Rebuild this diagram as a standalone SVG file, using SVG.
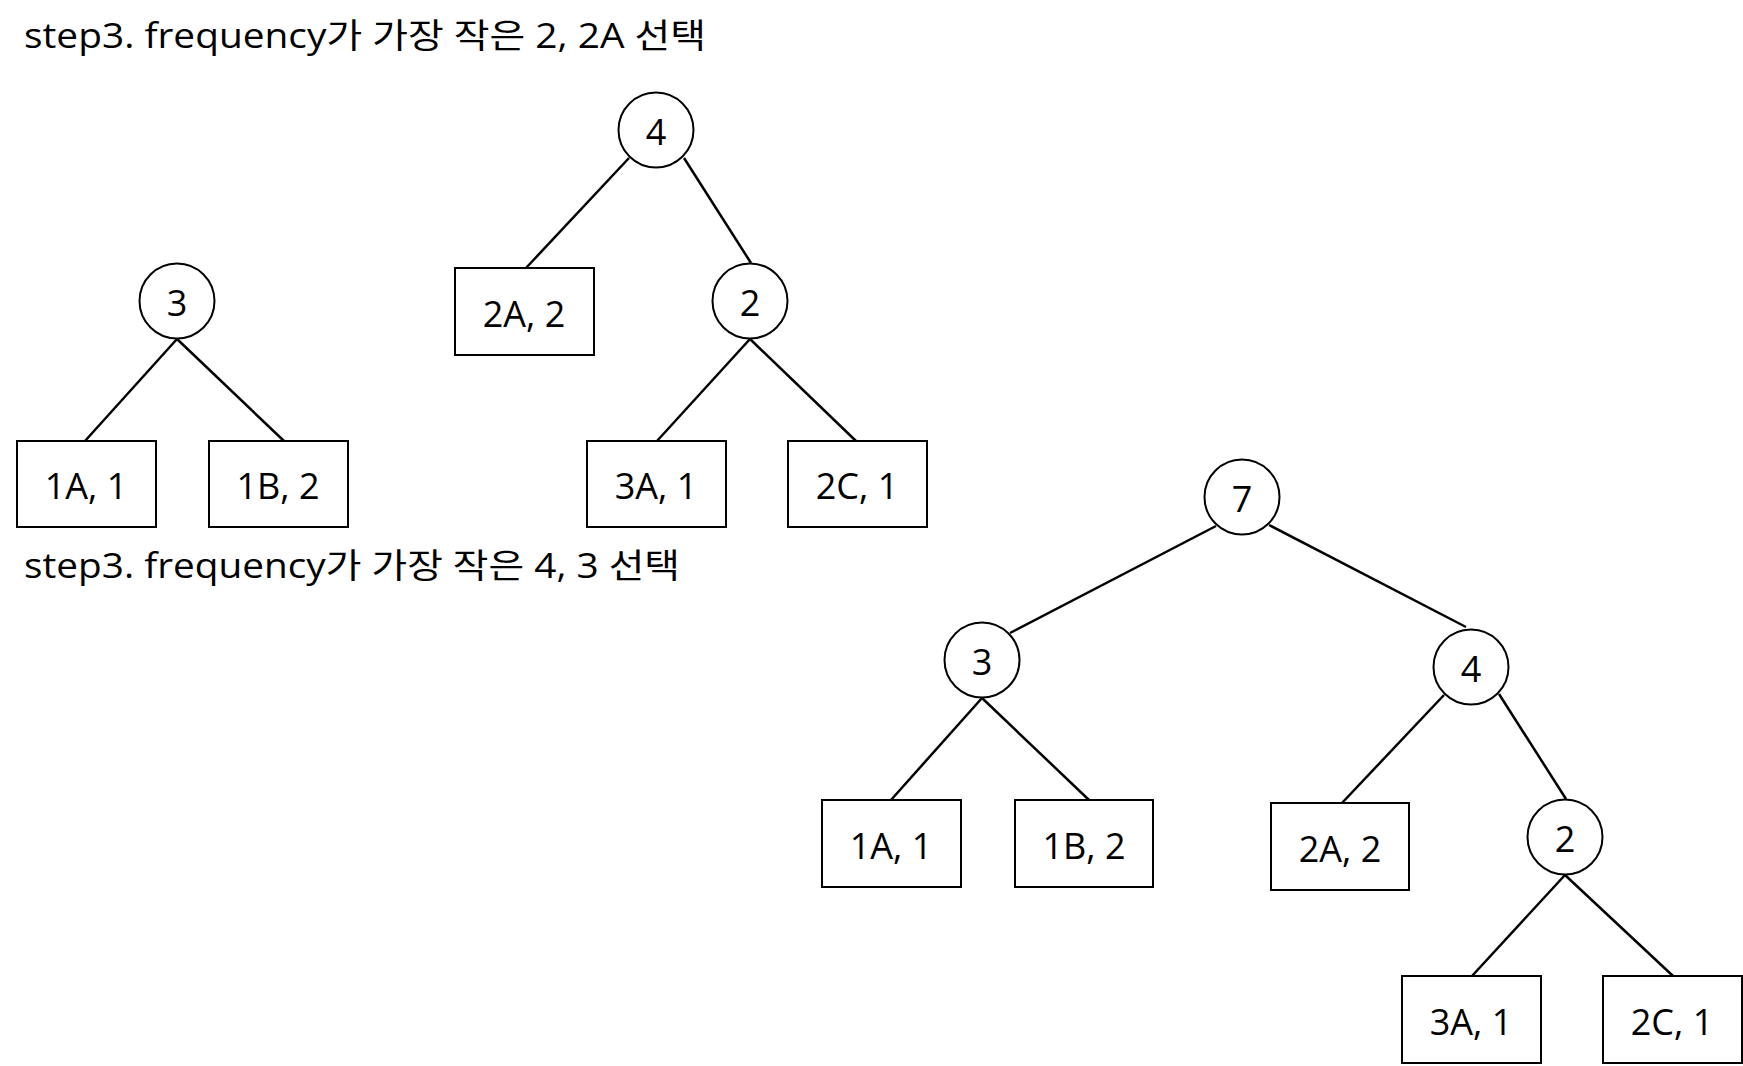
<svg xmlns="http://www.w3.org/2000/svg" width="1743" height="1066" viewBox="0 0 1743 1066">
<style>
  .bg { fill: #ffffff; }
  .node circle, .node rect { fill: #ffffff; stroke: #000000; stroke-width: 2; }
  .lbl { font-family: "Open Sans", "Noto Sans CJK KR", sans-serif; font-size: 36px; fill: #000000; text-anchor: middle; }
  .title { font-family: "Open Sans", "Noto Sans CJK KR", sans-serif; font-size: 34px; fill: #000000; }
  #connectors line { stroke: #000000; stroke-width: 2.5; }
</style>
<rect class="bg" x="0" y="0" width="1743" height="1066"/>

<text id="title1" class="title" x="24" y="48" textLength="682" lengthAdjust="spacingAndGlyphs">step3. frequency가 가장 작은 2, 2A 선택</text>
<text id="title2" class="title" x="24" y="578" textLength="656" lengthAdjust="spacingAndGlyphs">step3. frequency가 가장 작은 4, 3 선택</text>

<g id="connectors">
  <line x1="177" y1="339" x2="85" y2="441"/>
  <line x1="177" y1="339" x2="284" y2="441"/>
  <line x1="629" y1="158" x2="526" y2="268"/>
  <line x1="684" y1="158" x2="751" y2="263"/>
  <line x1="750" y1="339" x2="657" y2="441"/>
  <line x1="750" y1="339" x2="856" y2="441"/>
  <line x1="1216" y1="526" x2="1010" y2="633"/>
  <line x1="1269" y1="525" x2="1466" y2="627"/>
  <line x1="982" y1="698" x2="891" y2="800"/>
  <line x1="982" y1="698" x2="1089" y2="800"/>
  <line x1="1444" y1="695" x2="1342" y2="803"/>
  <line x1="1499" y1="694" x2="1566" y2="799"/>
  <line x1="1565" y1="875" x2="1472" y2="976"/>
  <line x1="1565" y1="875" x2="1673" y2="976"/>
</g>

<!-- Tree A -->
<g id="a_n3" class="node"><circle cx="177" cy="301" r="37.5"/><text class="lbl" x="177" y="316">3</text></g>
<g id="a_1A" class="node"><rect x="17" y="441" width="139" height="86"/><text class="lbl" x="86" y="499">1A, 1</text></g>
<g id="a_1B" class="node"><rect x="209" y="441" width="139" height="86"/><text class="lbl" x="278" y="499">1B, 2</text></g>

<!-- Tree B -->
<g id="b_n4" class="node"><circle cx="656" cy="130" r="37.5"/><text class="lbl" x="656" y="145">4</text></g>
<g id="b_2A" class="node"><rect x="455" y="268" width="139" height="87"/><text class="lbl" x="524" y="327">2A, 2</text></g>
<g id="b_n2" class="node"><circle cx="750" cy="301" r="37.5"/><text class="lbl" x="750" y="316">2</text></g>
<g id="b_3A" class="node"><rect x="587" y="441" width="139" height="86"/><text class="lbl" x="656" y="499">3A, 1</text></g>
<g id="b_2C" class="node"><rect x="788" y="441" width="139" height="86"/><text class="lbl" x="857" y="499">2C, 1</text></g>

<!-- Tree C -->
<g id="c_n7" class="node"><circle cx="1242" cy="497" r="37.5"/><text class="lbl" x="1242" y="512">7</text></g>
<g id="c_n3" class="node"><circle cx="982" cy="660" r="37.5"/><text class="lbl" x="982" y="675">3</text></g>
<g id="c_1A" class="node"><rect x="822" y="800" width="139" height="87"/><text class="lbl" x="891" y="859">1A, 1</text></g>
<g id="c_1B" class="node"><rect x="1015" y="800" width="138" height="87"/><text class="lbl" x="1084" y="859">1B, 2</text></g>
<g id="c_n4" class="node"><circle cx="1471" cy="667" r="37.5"/><text class="lbl" x="1471" y="682">4</text></g>
<g id="c_2A" class="node"><rect x="1271" y="803" width="138" height="87"/><text class="lbl" x="1340" y="862">2A, 2</text></g>
<g id="c_n2" class="node"><circle cx="1565" cy="837" r="37.5"/><text class="lbl" x="1565" y="852">2</text></g>
<g id="c_3A" class="node"><rect x="1402" y="976" width="139" height="87"/><text class="lbl" x="1471" y="1035">3A, 1</text></g>
<g id="c_2C" class="node"><rect x="1603" y="976" width="139" height="87"/><text class="lbl" x="1672" y="1035">2C, 1</text></g>
</svg>
